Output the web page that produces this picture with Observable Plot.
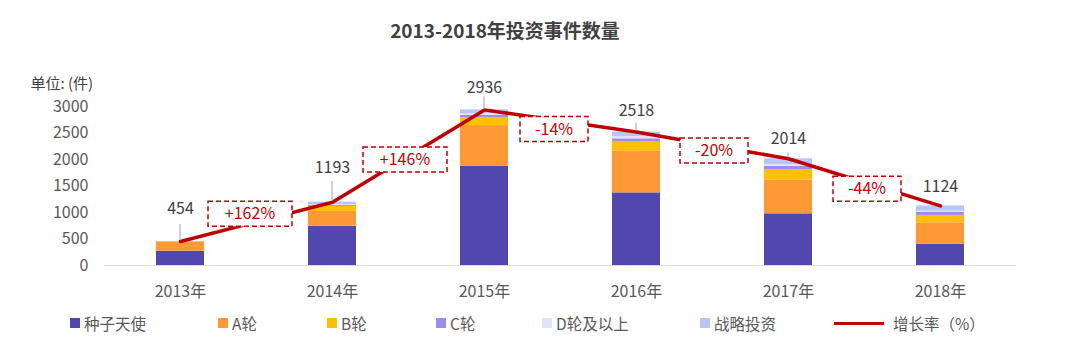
<!DOCTYPE html>
<html>
<head>
<meta charset="utf-8">
<script src="https://cdn.jsdelivr.net/npm/d3@7"></script>
<script src="https://cdn.jsdelivr.net/npm/@observablehq/plot@0.6"></script>
<style>
  body { margin: 0; background: #fff; }
  #wrap { position: relative; width: 1080px; height: 357px; font-family: "Noto Sans CJK SC", "Noto Sans", sans-serif; }
  #title { position: absolute; top: 16px; left: 0; width: 1010px; text-align: center; font-size: 19px; font-weight: bold; color: #404040; }
  #chart { position: absolute; top: 55px; left: 0; }
  .leg { position: absolute; top: 312px; font-size: 15.5px; color: #595959; white-space: nowrap; display: flex; align-items: center; height: 22px; }
  .sw { width: 10px; height: 10px; margin-right: 4px; }
  .ln { width: 50px; height: 3px; margin-right: 9px; }
</style>
</head>
<body>
<div id="wrap">
  <div id="title"></div>
  <div id="chart"></div>
</div>
<script>
const titleText = "2013-2018年投资事件数量";
const unitLabel = "单位: (件)";
const years = [2013, 2014, 2015, 2016, 2017, 2018];
const yearSuffix = "年";
const seriesNames = ["种子天使", "A轮", "B轮", "C轮", "D轮及以上", "战略投资"];
const seed      = [270, 740, 1870, 1370, 975, 400];
const roundA    = [175, 280, 770, 790, 640, 405];
const roundB    = [5, 95, 145, 180, 195, 140];
const roundC    = [2, 20, 50, 50, 60, 60];
const roundD    = [1, 15, 30, 40, 35, 20];
const strategic = [1, 43, 71, 88, 109, 99];
const totals = [454, 1193, 2936, 2518, 2014, 1124];
const growth = ["+162%", "+146%", "-14%", "-20%", "-44%"];
const lineName = "增长率（%）";
const yTicks = [0, 500, 1000, 1500, 2000, 2500, 3000];

// styles
const colors = ["#5247AE", "#FF9933", "#FFC000", "#9C8CF2", "#E2E2F8", "#B7C6FA"];
const lineColor = "#C00000";
const labelLift = [33, 34, 22, 21, 20, 19];
const leaderLen = [16, 20, 12, 8, 5, 0];
const boxDx = [-6, -3, -6, 2, 3];
const boxDy = [-7.5, 4, 8.5, 5.5, 7];
const legendLeft = [70, 218, 327, 436, 542, 700, 834];

document.getElementById("title").textContent = titleText;

const seriesValues = [seed, roundA, roundB, roundC, roundD, strategic];
const stacked = [];
years.forEach((yr, i) => {
  let base = 0;
  seriesValues.forEach((vals, s) => {
    stacked.push({year: yr, series: seriesNames[s], y1: base, y2: base + vals[i]});
    base += vals[i];
  });
});
const totalRows = years.map((yr, i) => ({year: yr, total: totals[i]}));
const halfBar = 0.158;

function overlay(index, scales) {
  const sx = scales.x, sy = scales.y;
  const g = d3.create("svg:g");
  totalRows.forEach((d, i) => {
    if (!leaderLen[i]) return;
    const px = sx(d.year), py = sy(d.total);
    g.append("line").attr("x1", px).attr("x2", px).attr("y1", py - 1).attr("y2", py - 1 - leaderLen[i])
      .attr("stroke", "#a6a6a6").attr("stroke-width", 1);
  });
  growth.forEach((lab, i) => {
    const px = (sx(years[i]) + sx(years[i + 1])) / 2 + boxDx[i];
    const py = (sy(totals[i]) + sy(totals[i + 1])) / 2 + boxDy[i];
    const w = lab.length * 16 + 4, h = 25;
    g.append("rect").attr("x", px - w / 2).attr("y", py - h / 2).attr("width", w).attr("height", h)
      .attr("fill", "#fff").attr("stroke", lineColor).attr("stroke-width", 1.5).attr("stroke-dasharray", "5,3");
    g.append("text").attr("x", px).attr("y", py).attr("dy", "0.35em").attr("text-anchor", "middle")
      .attr("fill", lineColor).attr("font-size", 16).text(lab);
  });
  return g.node();
}

const plot = Plot.plot({
  width: 1080,
  height: 250,
  marginTop: 51,
  marginBottom: 40,
  marginLeft: 104,
  marginRight: 64,
  style: {fontFamily: "'Noto Sans CJK SC', 'Noto Sans', sans-serif", fontSize: "16px", color: "#595959", background: "#fff"},
  x: {type: "linear", domain: [2012.5, 2018.5]},
  y: {domain: [0, 3000]},
  color: {domain: seriesNames, range: colors},
  marks: [
    Plot.axisX({ticks: years, tickFormat: d => d + yearSuffix, tickSize: 0, tickPadding: 20, label: null, fontSize: 16}),
    Plot.axisY({ticks: yTicks, tickFormat: d => String(d), tickSize: 0, tickPadding: 16, label: null, fontSize: 16}),
    Plot.ruleY([0], {stroke: "#d9d9d9", strokeWidth: 1}),
    Plot.rect(stacked, {x1: d => d.year - halfBar, x2: d => d.year + halfBar, y1: "y1", y2: "y2", fill: "series"}),
    Plot.line(totalRows, {x: "year", y: "total", stroke: lineColor, strokeWidth: 3.5}),
    overlay,
    ...totalRows.map((d, i) => Plot.text([d], {x: "year", y: "total", text: d => String(d.total), dy: -labelLift[i], fill: "#404040", fontSize: 16})),
    Plot.text([unitLabel], {frameAnchor: "top-left", dx: -74, dy: -28, textAnchor: "start", fill: "#404040", fontSize: 15})
  ]
});
document.getElementById("chart").appendChild(plot);

const wrap = document.getElementById("wrap");
seriesNames.forEach((name, i) => {
  const el = document.createElement("div");
  el.className = "leg";
  el.style.left = legendLeft[i] + "px";
  el.innerHTML = `<div class="sw" style="background:${colors[i]}"></div><span>${name}</span>`;
  wrap.appendChild(el);
});
const le = document.createElement("div");
le.className = "leg";
le.style.left = legendLeft[6] + "px";
le.innerHTML = `<div class="ln" style="background:${lineColor}"></div><span>${lineName}</span>`;
wrap.appendChild(le);
</script>
</body>
</html>
